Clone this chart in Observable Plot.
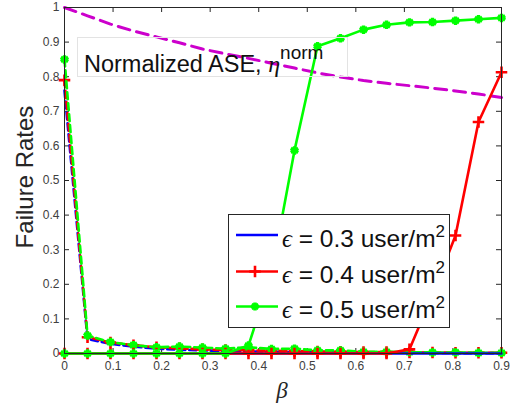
<!DOCTYPE html>
<html><head><meta charset="utf-8">
<script src="https://cdn.jsdelivr.net/npm/d3@7"></script>
<script src="https://cdn.jsdelivr.net/npm/@observablehq/plot@0.6"></script>
<style>
body{margin:0;background:#fff;}
#wrap{position:relative;width:513px;height:408px;overflow:hidden;font-family:"Liberation Sans",Arial,sans-serif;background:#fff;}
#wrap svg{display:block;}
.ov{position:absolute;}
#ylab{left:-75.5px;top:164.5px;width:200px;height:24px;line-height:24px;text-align:center;font-size:24px;color:#262626;transform:rotate(-90deg);white-space:nowrap;}
#xlab{left:262px;top:378px;width:40px;text-align:center;font-family:"Liberation Serif","DejaVu Serif",serif;font-style:italic;font-size:23px;color:#262626;}
#annot{left:77px;top:37px;width:271px;height:40px;border:1px solid #e3e3e3;box-sizing:border-box;}
</style></head><body><div id="wrap"></div>
<script>
// ---- data ----
const beta = [0, 0.0474, 0.0947, 0.1421, 0.1895, 0.2368, 0.2842, 0.3316, 0.3789, 0.4263, 0.4737, 0.5211, 0.5684, 0.6158, 0.6632, 0.7105, 0.7579, 0.8053, 0.8526, 0.9];
const aseNorm = [1.0, 0.976, 0.952, 0.932, 0.915, 0.898, 0.880, 0.866, 0.853, 0.839, 0.825, 0.811, 0.799, 0.789, 0.781, 0.774, 0.767, 0.759, 0.750, 0.740];
// solid lines
const fail03 = [0,0,0,0,0,0,0,0,0,0,0,0,0,0,0,0,0,0,0,0];
const fail04 = [0,0,0,0,0,0,0,0,0,0,0,0,0,0,0,0.012,0.17,0.341,0.669,0.813];
const fail05 = [0,0,0,0,0,0,0,0,0.023,0.23,0.587,0.888,0.911,0.936,0.95,0.957,0.958,0.962,0.966,0.97];
// dashed lines
const dash03 = [0.76, 0.042, 0.028, 0.02, 0.014, 0.011, 0.009, 0.007, 0.006, 0.005, 0.004, 0.004, 0.003, 0.003, 0.002, 0.002, 0.002, 0.001, 0.001, 0.001];
const dash04 = [0.79, 0.047, 0.032, 0.024, 0.018, 0.015, 0.012, 0.01, 0.009, 0.008, 0.007, 0.006, 0.005, 0.004, 0.004, 0.003, 0.003, 0.002, 0.002, 0.002];
const dash05 = [0.85, 0.052, 0.033, 0.024, 0.018, 0.02, 0.017, 0.014, 0.018, 0.013, 0.014, 0.009, 0.009, 0.005, 0.005, 0.004, 0.003, 0.003, 0.002, 0.002];
const xTicks = [0, 0.1, 0.2, 0.3, 0.4, 0.5, 0.6, 0.7, 0.8, 0.9];
const yTicks = [0, 0.1, 0.2, 0.3, 0.4, 0.5, 0.6, 0.7, 0.8, 0.9, 1];
const epsValues = ["0.3", "0.4", "0.5"];
const colors = ["#0000ff", "#ff0000", "#00ff00"];
const symbols = [null, "plus", "asterisk"];
const aseColor = "#cc00cc";

// ---- layout ----
const W = 513, H = 408, mL = 64, mR = 12, mT = 7, mB = 55, tk = 5;
const iw = W - mL - mR, ih = H - mT - mB;
const rows = ys => beta.map((b, i) => ({b, v: ys[i]}));
const fmt = d3.format("~g");
const axisColor = "#262626";
const symR = {plus: 3.8, asterisk: 4};
const symW = {plus: 2.6, asterisk: 3.4};

const dashedSets = [dash03, dash04, dash05];
const solidSets = [fail03, fail04, fail05];
const marks = [
  Plot.axisX({ticks: xTicks, tickSize: 0, tickPadding: 8, tickFormat: fmt, label: null, fill: "#404040", fontSize: 12}),
  Plot.axisY({ticks: yTicks, tickSize: 0, tickPadding: 5, tickFormat: fmt, label: null, fill: "#404040", fontSize: 12}),
  Plot.tickX(xTicks, {x: d => d, insetTop: ih - tk, stroke: axisColor}),
  Plot.tickX(xTicks, {x: d => d, insetBottom: ih - tk, stroke: axisColor}),
  Plot.tickY(yTicks, {y: d => d, insetRight: iw - tk, stroke: axisColor}),
  Plot.tickY(yTicks, {y: d => d, insetLeft: iw - tk, stroke: axisColor}),
  Plot.line(rows(aseNorm), {x: "b", y: "v", stroke: aseColor, strokeWidth: 3, strokeDasharray: "12,7"})
];
dashedSets.forEach((s, i) => {
  marks.push(Plot.line(rows(s), {x: "b", y: "v", stroke: colors[i], strokeWidth: 2.6, strokeDasharray: "7,4"}));
  if (symbols[i]) marks.push(Plot.dot(rows(s), {x: "b", y: "v", symbol: symbols[i], r: symR[symbols[i]], stroke: colors[i], strokeWidth: symW[symbols[i]]}));
});
solidSets.forEach((s, i) => {
  marks.push(Plot.line(rows(s), {x: "b", y: "v", stroke: colors[i], strokeWidth: 2.6}));
  if (symbols[i]) marks.push(Plot.dot(rows(s), {x: "b", y: "v", symbol: symbols[i], r: symR[symbols[i]], stroke: colors[i], strokeWidth: symW[symbols[i]]}));
});
marks.push(Plot.frame({stroke: axisColor}));

const chart = Plot.plot({
  width: W, height: H, marginLeft: mL, marginRight: mR, marginTop: mT, marginBottom: mB,
  x: {domain: [0, 0.9]}, y: {domain: [0, 1]},
  style: {fontFamily: "'Liberation Sans', Arial, sans-serif", fontSize: "12px", background: "white", overflow: "visible"},
  marks
});
const wrap = document.getElementById("wrap");
wrap.appendChild(chart);

// annotation box
const annot = document.createElement("div");
annot.className = "ov"; annot.id = "annot";
wrap.appendChild(annot);
const asvg = d3.select(wrap).append("svg").attr("class", "ov").style("left", "0px").style("top", "0px")
  .attr("width", W).attr("height", 100).style("pointer-events", "none");
const at = asvg.append("text").attr("x", 84).attr("y", 72).attr("font-family", "'Liberation Sans', Arial, sans-serif").attr("font-size", 23.5).attr("fill", "#111");
at.append("tspan").text("Normalized ASE, ");
at.append("tspan").attr("font-family", "'Liberation Serif','DejaVu Serif',serif").attr("font-style", "italic").attr("font-size", 24).text("η");
at.append("tspan").attr("dy", -13).attr("font-size", 19).text("norm");

// y / x labels
const yl = document.createElement("div"); yl.className = "ov"; yl.id = "ylab"; yl.textContent = "Failure Rates"; wrap.appendChild(yl);
const xl = document.createElement("div"); xl.className = "ov"; xl.id = "xlab"; xl.textContent = "β"; wrap.appendChild(xl);

// legend
const lg = d3.select(wrap).append("svg").attr("class", "ov").style("left", "228px").style("top", "214px")
  .attr("width", 222).attr("height", 114);
lg.append("rect").attr("x", 0.5).attr("y", 0.5).attr("width", 221).attr("height", 113).attr("fill", "white").attr("stroke", axisColor);
const rowY = [21, 57.5, 92.5];
epsValues.forEach((e, i) => {
  const y = rowY[i];
  lg.append("line").attr("x1", 8).attr("x2", 50).attr("y1", y).attr("y2", y).attr("stroke", colors[i]).attr("stroke-width", 2.6);
  if (symbols[i]) {
    const sym = symbols[i] === "plus" ? d3.symbolPlus : d3.symbolAsterisk;
    lg.append("path").attr("d", d3.symbol(sym, 45)()).attr("transform", `translate(27,${y})`)
      .attr("fill", "none").attr("stroke", colors[i]).attr("stroke-width", symW[symbols[i]]);
  }
  const t = lg.append("text").attr("x", 54).attr("y", y + 11.5).attr("font-family", "'Liberation Sans', Arial, sans-serif").attr("font-size", 24.5).attr("fill", "#111");
  t.append("tspan").attr("font-family", "'Liberation Serif','DejaVu Serif',serif").attr("font-style", "italic").text("ϵ");
  t.append("tspan").text(` = ${e} user/m`);
  t.append("tspan").attr("dy", -10).attr("font-size", 17).text("2");
});
</script></body></html>
